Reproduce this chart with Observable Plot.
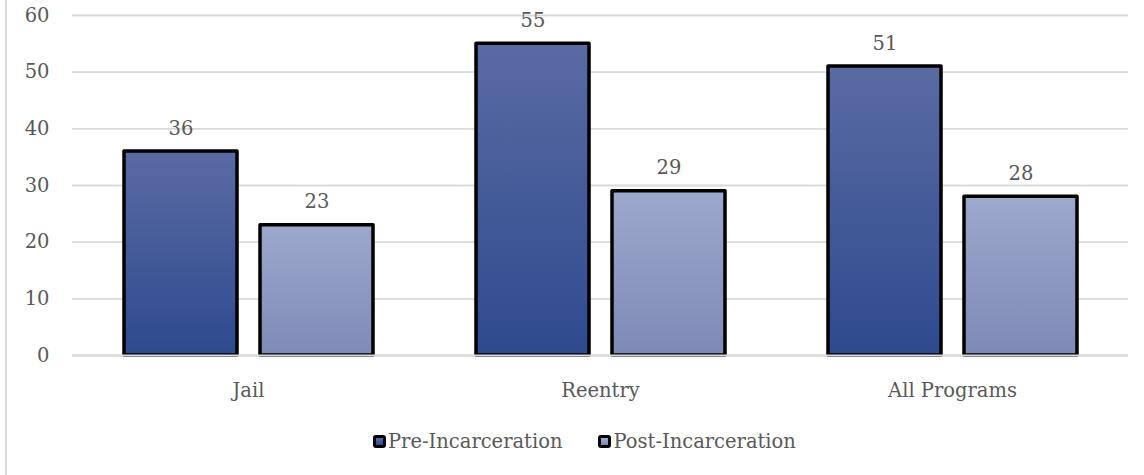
<!DOCTYPE html>
<html>
<head>
<meta charset="utf-8">
<script src="https://cdn.jsdelivr.net/npm/d3@7"></script>
<script src="https://cdn.jsdelivr.net/npm/@observablehq/plot@0.6"></script>
<style>
  html, body { margin: 0; padding: 0; background: #fff; }
  #wrap { position: relative; width: 1144px; height: 475px; overflow: hidden; font-family: "DejaVu Serif", serif; }
  #frame { position: absolute; left: 5px; top: 0; width: 2px; height: 475px; background: #d9d9d9; }
  #chart { position: absolute; left: 0; top: 0; }
  #chart svg text { font-size: 19.5px; }
  #legend { position: absolute; left: 373px; top: 430px; display: flex; align-items: center; font-size: 19.5px; color: #595959; }
  .item { display: flex; align-items: center; margin-right: 36px; }
  .swatch { width: 7px; height: 7px; border: 3px solid #000; border-radius: 3px; margin-right: 2px; }
</style>
</head>
<body>
<div id="wrap">
  <div id="frame"></div>
  <div id="chart"></div>
  <div id="legend"></div>
</div>
<script>
// Program groups and the two measurement periods
const programs = ["Jail", "Reentry", "All Programs"];
const periods = ["Pre-Incarceration", "Post-Incarceration"];
const preValues = [36, 55, 51];
const postValues = [23, 29, 28];
const yTicks = [0, 10, 20, 30, 40, 50, 60];

const gradients = {
  "Pre-Incarceration": {id: "grad-pre", top: "#5a6ba3", bottom: "#2e4a8e"},
  "Post-Incarceration": {id: "grad-post", top: "#9da8cd", bottom: "#7e8ab6"}
};

const rows = programs.flatMap((p, i) => [
  {program: p, period: periods[0], value: preValues[i]},
  {program: p, period: periods[1], value: postValues[i]}
]);

const font = "DejaVu Serif, serif";
const textColor = "#595959";

const barMarks = periods.map(per => Plot.barY(rows.filter(d => d.period === per), {
  fx: "program",
  x: "period",
  y: "value",
  fill: `url(#${gradients[per].id})`,
  stroke: "#000",
  strokeWidth: 3.5,
  strokeLinejoin: "round",
  style: {filter: "drop-shadow(0px 0px 3px rgba(0,0,0,0.22))"}
}));

const chart = Plot.plot({
  width: 1144,
  height: 410,
  marginLeft: 72,
  marginRight: 16,
  marginTop: 15,
  marginBottom: 55,
  style: {fontFamily: font, fontSize: "19.5px", color: textColor, background: "transparent", overflow: "visible"},
  fx: {domain: programs, padding: 0, label: null},
  x: {domain: periods, paddingInner: 0.17, paddingOuter: 0.379, axis: null},
  y: {domain: [0, 60], label: null},
  marks: [
    Plot.gridY(yTicks, {stroke: "#d9d9d9", strokeOpacity: 1, strokeWidth: 1.8}),
    Plot.axisY(yTicks, {tickSize: 0, tickPadding: 23, label: null, fill: textColor, fontSize: 19.5}),
    Plot.axisFx({anchor: "bottom", tickSize: 0, tickPadding: 28, label: null, fill: textColor, fontSize: 19.5}),
    ...barMarks,
    Plot.ruleY([0], {stroke: "#d9d9d9", strokeWidth: 2}),
    Plot.text(rows, {fx: "program", x: "period", y: "value", text: d => String(d.value), dy: -23, fill: textColor, fontSize: 19.5})
  ]
});

// Vertical gradients for the bar fills
const svg = d3.select(chart.tagName.toLowerCase() === "svg" ? chart : chart.querySelector("svg"));
const defs = svg.insert("defs", ":first-child");
for (const per of periods) {
  const g = gradients[per];
  const lg = defs.append("linearGradient").attr("id", g.id).attr("x1", 0).attr("y1", 0).attr("x2", 0).attr("y2", 1);
  lg.append("stop").attr("offset", "0%").attr("stop-color", g.top);
  lg.append("stop").attr("offset", "100%").attr("stop-color", g.bottom);
}
document.getElementById("chart").appendChild(chart);

// Legend
const legend = d3.select("#legend");
for (const per of periods) {
  const g = gradients[per];
  const item = legend.append("div").attr("class", "item");
  item.append("div").attr("class", "swatch").style("background", `linear-gradient(${g.top}, ${g.bottom})`);
  item.append("span").text(per);
}
</script>
</body>
</html>
